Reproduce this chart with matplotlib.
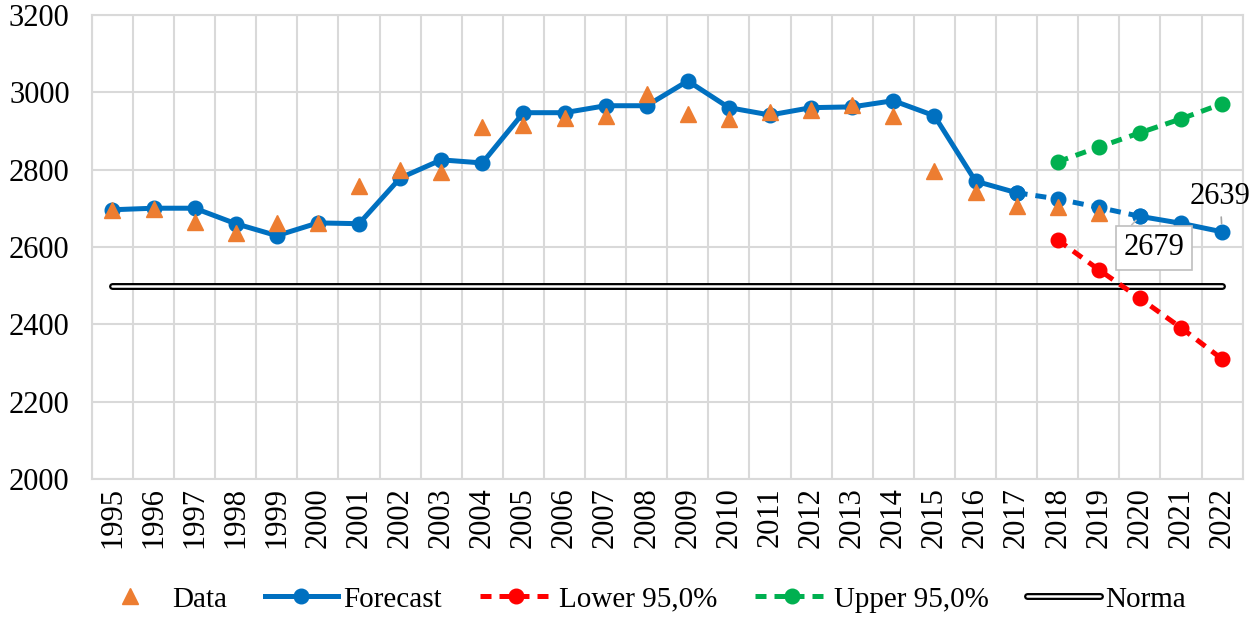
import matplotlib.pyplot as plt
import matplotlib.patheffects as pe
import numpy as np

years = [str(y) for y in range(1995, 2023)]
data = [2695, 2697, 2665, 2636, 2662, 2662, 2758, 2799, 2794, 2910,
        2916, 2934, 2939, 2996, 2944, 2931, 2949, 2954, 2967, 2939,
        2797, 2742, 2706, 2704, 2688]
forecast = [2696, 2700, 2700, 2660, 2629, 2662, 2660, 2778, 2825, 2817,
            2947, 2947, 2965, 2965, 3029, 2960, 2941, 2960, 2962, 2978,
            2939, 2770, 2740, 2724, 2702, 2679, 2661, 2639]
lower = [2618, 2541, 2467, 2391, 2310]
upper = [2820, 2858, 2895, 2931, 2970]
norma = 2500

BLUE = '#0070C0'
ORANGE = '#ED7D31'
RED = '#FF0000'
GREEN = '#00B050'
GRID = '#d9d9d9'

plt.rcParams['font.family'] = ['Liberation Serif', 'DejaVu Serif']
plt.rcParams['font.size'] = 21

fig = plt.figure(figsize=(12.59, 6.18), dpi=100)
ax = fig.add_axes([0.073, 0.225, 0.914, 0.751])

x = np.arange(len(years))
xd = x[:len(data)]
xb = x[-len(lower):]

# norma double line
ax.plot([x[0], x[-1]], [norma, norma], color='white', lw=1.8,
        solid_capstyle='round',
        path_effects=[pe.Stroke(linewidth=5, foreground='black'), pe.Normal()],
        label='Norma', zorder=2)

ax.plot(xb, lower, color=RED, lw=3.6, ls=(0, (2.2, 1.6)), marker='o', ms=10.5,
        label='Lower 95,0%', zorder=3)
ax.plot(xb, upper, color=GREEN, lw=3.6, ls=(0, (2.2, 1.6)), marker='o', ms=10.5,
        label='Upper 95,0%', zorder=3)

# forecast: solid history, dashed through 2020, solid after
ax.plot(x[:23], forecast[:23], color=BLUE, lw=3.6, marker='o', ms=10.5,
        label='Forecast', zorder=4)
ax.plot(x[22:26], forecast[22:26], color=BLUE, lw=3.6, ls=(0, (2.2, 1.6)),
        marker='o', ms=10.5, zorder=4)
ax.plot(x[25:], forecast[25:], color=BLUE, lw=3.6, marker='o', ms=10.5, zorder=4)

ax.plot(xd, data, ls='none', marker='^', color=ORANGE, ms=11, label='Data',
        zorder=5)

# labels
ax.annotate('2679', xy=(x[25], forecast[25]), xytext=(25.35, 2598),
            ha='center', va='center', fontsize=22,
            bbox=dict(boxstyle='square,pad=0.25', fc='white', ec='#bfbfbf', lw=1.2),
            arrowprops=dict(arrowstyle='-', color='#bfbfbf', lw=1.2,
                            shrinkA=0, shrinkB=4,
                            relpos=(0.0, 1.0)), zorder=6)
ax.annotate('2639', xy=(x[27], forecast[27]), xytext=(26.95, 2729),
            ha='center', va='center', fontsize=22,
            arrowprops=dict(arrowstyle='-', color='#a6a6a6', lw=1.2,
                            shrinkA=2, shrinkB=6), zorder=6)

ax.set_xlim(-0.5, len(years) - 0.5)
ax.set_ylim(2000, 3200)
ax.set_yticks(np.arange(2000, 3201, 200))
ax.set_xticks(x)
ax.set_xticklabels(years, rotation=90)
ax.set_xticks(np.arange(-0.5, len(years), 1), minor=True)
ax.grid(False)
ax.grid(True, which='minor', axis='x', color=GRID, lw=1.5)
ax.grid(True, which='major', axis='y', color=GRID, lw=1.5)
ax.set_axisbelow(True)
ax.tick_params(which='both', length=0, labelsize=22)
ax.tick_params(axis='y', pad=16)
ax.tick_params(axis='x', pad=6)
for s in ax.spines.values():
    s.set_color(GRID)
    s.set_linewidth(1.5)

h, l = ax.get_legend_handles_labels()
order = ['Data', 'Forecast', 'Lower 95,0%', 'Upper 95,0%', 'Norma']
hs = [h[l.index(n)] for n in order]
fig.legend(hs, order, loc='center', bbox_to_anchor=(0.508, 0.03), ncol=5,
           frameon=False, handlelength=2.5, handletextpad=0.2,
           columnspacing=1.3, fontsize=21)

fig.savefig('out.png', dpi=100)
